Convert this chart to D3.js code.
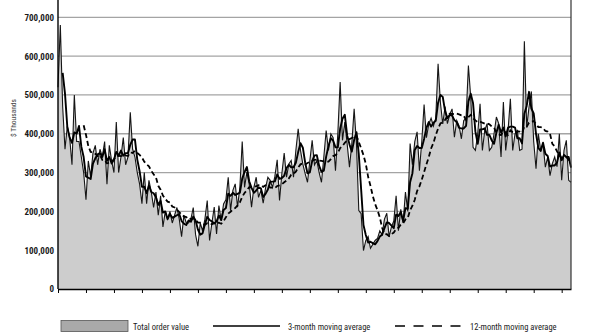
<!DOCTYPE html>
<html>
<head>
<meta charset="utf-8">
<script src="https://cdn.jsdelivr.net/npm/d3@7/dist/d3.min.js"></script>
<style>
  html, body { margin: 0; padding: 0; background: #fff; }
  svg { display: block; font-family: "Liberation Sans Narrow", "Arial Narrow", "Roboto Condensed", "Liberation Sans", sans-serif; }
</style>
</head>
<body>
<svg id="chart" width="595" height="335"></svg>
<script>
// Monthly total order value ($ thousands), one entry per month
const orderValue = [
  520000, 680000, 470000, 360000, 420000, 390000, 320000, 500000, 380000, 380000,
  340000, 300000, 230000, 330000, 290000, 350000, 370000, 320000, 360000, 340000,
  380000, 270000, 370000, 330000, 300000, 430000, 300000, 340000, 390000, 320000,
  340000, 455000, 360000, 340000, 300000, 270000, 220000, 300000, 220000, 280000,
  250000, 210000, 250000, 190000, 240000, 160000, 200000, 180000, 200000, 170000,
  190000, 210000, 180000, 135000, 190000, 170000, 170000, 180000, 210000, 140000,
  110000, 170000, 150000, 180000, 228000, 125000, 170000, 211000, 142000, 215000,
  176000, 219000, 230000, 288000, 202000, 254000, 271000, 211000, 262000, 380000,
  262000, 301000, 270000, 211000, 262000, 288000, 236000, 254000, 221000, 260000,
  288000, 280000, 262000, 290000, 333000, 228000, 297000, 350000, 288000, 322000,
  331000, 288000, 357000, 413000, 357000, 322000, 297000, 275000, 330000, 383000,
  320000, 331000, 300000, 275000, 340000, 408000, 357000, 400000, 390000, 305000,
  400000, 533000, 383000, 430000, 374000, 314000, 374000, 464000, 374000, 202000,
  194000,  99000, 125000, 135000, 105000, 115000, 125000, 130000, 150000, 140000,
  180000, 195000, 135000, 160000, 175000, 240000, 150000, 205000, 170000, 250000,
  200000, 375000, 320000, 380000, 405000, 305000, 380000, 475000, 390000, 425000,
  440000, 420000, 440000, 580000, 480000, 425000, 470000, 426000, 450000, 464000,
  391000, 434000, 420000, 387000, 434000, 440000, 576000, 494000, 365000, 357000,
  400000, 477000, 357000, 408000, 426000, 357000, 365000, 400000, 443000, 426000,
  340000, 482000, 357000, 408000, 490000, 357000, 400000, 408000, 357000, 360000,
  638000, 417000, 469000, 509000, 380000, 310000, 400000, 357000, 374000, 314000,
  340000, 292000, 323000, 340000, 315000, 400000, 280000, 357000, 383000, 280000,
  275000
];

const yTicks = [0, 100000, 200000, 300000, 400000, 500000, 600000, 700000];
const yTitle = "$ Thousands";
const legendLabels = ["Total order value", "3-month moving average", "12-month moving average"];
const monthsPerTick = 12;

// Trailing moving average over the previous n months
function movingAverage(values, n) {
  return values.map((v, i) => i < n - 1 ? null : d3.mean(values.slice(i - n + 1, i + 1)));
}
const ma3 = movingAverage(orderValue, 3);
const ma12 = movingAverage(orderValue, 12);

const svg = d3.select("#chart");
const left = 58, right = 571, bottom = 289;

const x = d3.scaleLinear().domain([0, orderValue.length - 1]).range([left, right]);
const y = d3.scaleLinear().domain([0, 700000]).range([bottom, 17.3]);

// Horizontal gridlines
svg.append("g")
  .selectAll("line")
  .data(yTicks.filter(d => d > 0))
  .join("line")
  .attr("x1", left).attr("x2", right)
  .attr("y1", d => y(d)).attr("y2", d => y(d))
  .attr("stroke", "#a4a4a4")
  .attr("stroke-width", 1.3);

// Area of total order value
svg.append("path")
  .datum(orderValue)
  .attr("fill", "#cdcdcd")
  .attr("d", d3.area().x((d, i) => x(i)).y0(y(0)).y1(d => y(d)));

// Raw monthly line
svg.append("path")
  .datum(orderValue)
  .attr("fill", "none")
  .attr("stroke", "#161616")
  .attr("stroke-width", 1.1)
  .attr("stroke-linejoin", "miter")
  .attr("d", d3.line().x((d, i) => x(i)).y(d => y(d)));

const maLine = d3.line().defined(d => d !== null).x((d, i) => x(i)).y(d => y(d));

// 12-month moving average (dashed)
svg.append("path")
  .datum(ma12)
  .attr("fill", "none")
  .attr("stroke", "#000")
  .attr("stroke-width", 1.8)
  .attr("stroke-dasharray", "5,3")
  .attr("d", maLine);

// 3-month moving average
svg.append("path")
  .datum(ma3)
  .attr("fill", "none")
  .attr("stroke", "#000")
  .attr("stroke-width", 1.9)
  .attr("stroke-linejoin", "round")
  .attr("d", maLine);

// Y axis labels
const yAxis = svg.append("g")
  .attr("transform", `translate(${left},0)`)
  .call(d3.axisLeft(y).tickValues(yTicks).tickFormat(d3.format(",")).tickSize(0).tickPadding(4));
yAxis.select(".domain").remove();
yAxis.selectAll("text")
  .attr("font-size", 9)
  .attr("font-weight", "bold")
  .attr("fill", "#1a1a1a")
  .attr("font-family", "\"Liberation Sans Narrow\", \"Arial Narrow\", \"Roboto Condensed\", sans-serif");

// X axis ticks (one per year)
const xAxis = svg.append("g")
  .attr("transform", `translate(0,${bottom})`)
  .call(d3.axisBottom(x)
    .tickValues(d3.range(0, orderValue.length, monthsPerTick))
    .tickFormat("")
    .tickSizeInner(4)
    .tickSizeOuter(0));
xAxis.select(".domain").attr("stroke", "#000").attr("stroke-width", 1.3);
xAxis.selectAll(".tick line").attr("stroke", "#000").attr("stroke-width", 1);

// Frame lines
svg.append("line")
  .attr("x1", left).attr("x2", left).attr("y1", 0).attr("y2", bottom)
  .attr("stroke", "#000").attr("stroke-width", 1.4);
svg.append("line")
  .attr("x1", right).attr("x2", right).attr("y1", 0).attr("y2", bottom)
  .attr("stroke", "#333").attr("stroke-width", 1.2);

// Y axis title
svg.append("text")
  .attr("transform", "translate(16,118) rotate(-90)")
  .attr("text-anchor", "middle")
  .attr("font-size", 7.5)
  .attr("fill", "#444")
  .text(yTitle);

// Legend
const lg = svg.append("g").attr("font-size", 8.5).attr("fill", "#1a1a1a");
lg.append("rect")
  .attr("x", 61).attr("y", 320.5).attr("width", 67).attr("height", 11)
  .attr("fill", "#a9a9a9").attr("stroke", "#555").attr("stroke-width", 0.8);
lg.append("text").attr("x", 133).attr("y", 329.5).text(legendLabels[0]);
lg.append("line")
  .attr("x1", 213).attr("x2", 280).attr("y1", 326).attr("y2", 326)
  .attr("stroke", "#000").attr("stroke-width", 1.7);
lg.append("text").attr("x", 288).attr("y", 329.5).text(legendLabels[1]);
lg.append("line")
  .attr("x1", 395).attr("x2", 463).attr("y1", 326).attr("y2", 326)
  .attr("stroke", "#000").attr("stroke-width", 1.7)
  .attr("stroke-dasharray", "10,8.5");
lg.append("text").attr("x", 470).attr("y", 329.5).text(legendLabels[2]);
</script>
</body>
</html>
